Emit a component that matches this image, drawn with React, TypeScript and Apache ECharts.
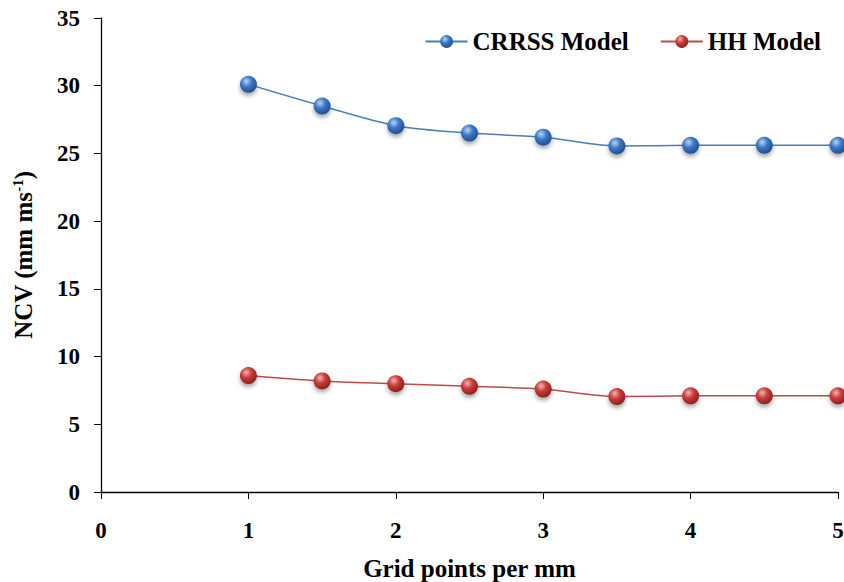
import React, { useEffect, useRef } from "react";
import * as echarts from "echarts";

const xValues = [1, 1.5, 2, 2.5, 3, 3.5, 4, 4.5, 5];
const crrssValues = [30.1, 28.5, 27.05, 26.5, 26.2, 25.55, 25.6, 25.6, 25.6];
const hhValues = [8.6, 8.2, 8.0, 7.8, 7.6, 7.05, 7.1, 7.1, 7.1];
const seriesNames = ["CRRSS Model", "HH Model"];

const FONT = "'Liberation Serif', 'Times New Roman', serif";

function ball(light: string, mid: string, dark: string) {
  return new echarts.graphic.RadialGradient(0.38, 0.32, 0.7, [
    { offset: 0, color: light },
    { offset: 0.45, color: mid },
    { offset: 1, color: dark },
  ]);
}

export default function App() {
  const ref = useRef<HTMLDivElement>(null);
  useEffect(() => {
    if (!ref.current) return;
    const chart = echarts.init(ref.current, undefined, { renderer: "svg" });
    const mk = (name: string, vals: number[], line: string, light: string, mid: string, dark: string) => ({
      name,
      type: "line",
      smooth: 0.3,
      data: xValues.map((x, i) => [x, vals[i]]),
      symbol: "circle",
      symbolSize: 17,
      lineStyle: { color: line, width: 1.5 },
      itemStyle: {
        color: ball(light, mid, dark),
        borderWidth: 0,
        shadowColor: "rgba(0,0,0,0.35)",
        shadowBlur: 4,
        shadowOffsetY: 3,
      },
    });
    chart.setOption({
      animation: false,
      backgroundColor: "#ffffff",
      grid: { left: 101, right: 6, top: 18, bottom: 90, containLabel: false, outerBoundsMode: "none" },
      legend: {
        right: 18,
        top: 24,
        itemWidth: 42,
        itemHeight: 16,
        itemGap: 31,
        textStyle: { fontFamily: FONT, fontWeight: "bold", fontSize: 25, color: "#000" },
        data: seriesNames,
      },
      xAxis: {
        type: "value",
        min: 0,
        max: 5,
        interval: 1,
        name: "Grid points per mm",
        nameLocation: "middle",
        nameGap: 64,
        nameTextStyle: { fontFamily: FONT, fontWeight: "bold", fontSize: 25, color: "#000" },
        axisLine: { lineStyle: { color: "#000", width: 1.3 } },
        axisTick: { show: true, inside: false, length: 7, lineStyle: { color: "#000" } },
        axisLabel: { fontFamily: FONT, fontWeight: "bold", fontSize: 23, color: "#000", margin: 27 },
        splitLine: { show: false },
      },
      yAxis: {
        type: "value",
        min: 0,
        max: 35,
        interval: 5,
        name: "NCV (mm ms{sup|-1})",
        nameLocation: "middle",
        nameGap: 64,
        nameRotate: 90,
        nameTextStyle: {
          fontFamily: FONT,
          fontWeight: "bold",
          fontSize: 25,
          color: "#000",
          rich: {
            sup: {
              fontFamily: FONT,
              fontWeight: "bold",
              fontSize: 15,
              color: "#000",
              verticalAlign: "top",
              padding: [0, 0, 12, 0],
            },
          },
        },
        axisLine: { show: true, lineStyle: { color: "#000", width: 1.3 } },
        axisTick: { show: true, inside: false, length: 7, lineStyle: { color: "#000" } },
        axisLabel: { fontFamily: FONT, fontWeight: "bold", fontSize: 23, color: "#000", margin: 21 },
        splitLine: { show: false },
      },
      series: [
        mk(seriesNames[0], crrssValues, "#4a7ebb", "#b9d4f5", "#3d78c6", "#1f4e8c"),
        mk(seriesNames[1], hhValues, "#be4b48", "#f3b4b2", "#c83c3a", "#8a1f1d"),
      ],
    });
    return () => chart.dispose();
  }, []);
  return (
    <div
      ref={ref}
      style={{ position: "fixed", left: 0, top: 0, width: 844, height: 582, background: "#fff" }}
    />
  );
}
